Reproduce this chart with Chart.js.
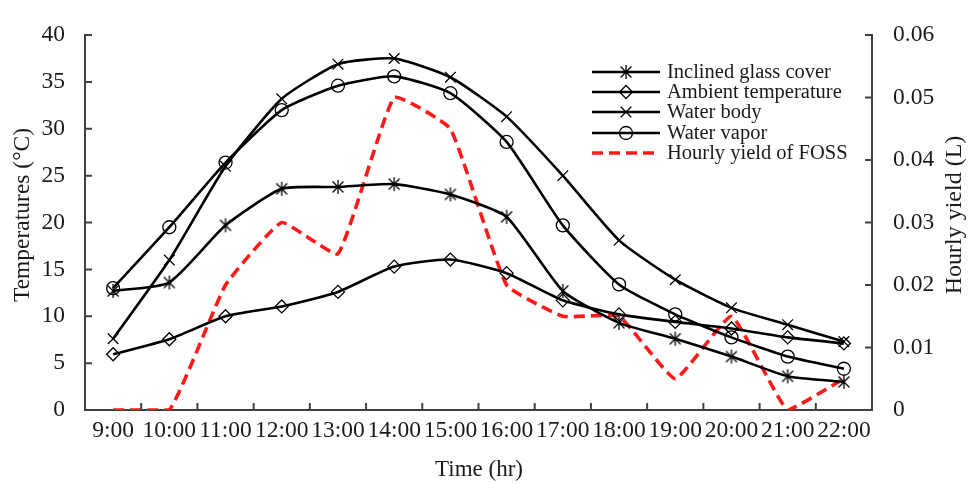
<!DOCTYPE html>
<html>
<head>
<meta charset="utf-8">
<script src="https://cdn.jsdelivr.net/npm/chart.js@4.4.1/dist/chart.umd.min.js"></script>
<style>
  html, body { margin: 0; padding: 0; background: #fff; }
  #wrap { width: 969px; height: 485px; }
</style>
</head>
<body>
<div id="wrap"><canvas id="c" width="969" height="485"></canvas></div>
<script>
// values
const hours = ['9:00', '10:00', '11:00', '12:00', '13:00', '14:00', '15:00', '16:00', '17:00', '18:00', '19:00', '20:00', '21:00', '22:00'];
const glassCover = [12.7, 13.6, 19.7, 23.6, 23.8, 24.1, 23.0, 20.6, 12.7, 9.3, 7.6, 5.7, 3.6, 3.0];
const ambientTemp = [5.95, 7.55, 10.0, 11.05, 12.6, 15.3, 16.05, 14.6, 11.7, 10.2, 9.4, 8.7, 7.75, 7.1];
const waterBody = [7.6, 16.0, 26.0, 33.2, 36.9, 37.5, 35.5, 31.3, 25.0, 18.1, 13.9, 10.9, 9.1, 7.3];
const waterVapor = [13.0, 19.5, 26.4, 32.0, 34.6, 35.6, 33.8, 28.6, 19.7, 13.4, 10.2, 7.75, 5.7, 4.4];
const hourlyYield = [0, 0, 0.02, 0.03, 0.025, 0.05, 0.045, 0.02, 0.015, 0.015, 0.005, 0.015, 0, 0.005];

const FONT = "'Liberation Serif', 'Times New Roman', serif";
const INK = '#1a1a1a';

function asteriskImg(r) {
  const s = r * 2 + 4;
  const cv = document.createElement('canvas');
  cv.width = s; cv.height = s;
  const g = cv.getContext('2d');
  const c = s / 2;
  g.strokeStyle = '#000';
  g.lineWidth = 1.3;
  g.beginPath();
  g.moveTo(c, c - r); g.lineTo(c, c + r);
  const d = r * 0.78;
  g.moveTo(c - d, c - d); g.lineTo(c + d, c + d);
  g.moveTo(c - d, c + d); g.lineTo(c + d, c - d);
  g.stroke();
  return cv;
}
const asterisk = asteriskImg(7);

const blackLine = (label, data, pointStyle, radius) => ({
  label, data, yAxisID: 'y',
  borderColor: '#000', borderWidth: 2.6,
  pointStyle, pointRadius: radius, pointBorderColor: '#000', pointBorderWidth: 1.3,
  pointBackgroundColor: 'rgba(0,0,0,0)',
  tension: 0.18,
});

const datasets = [
  blackLine('Inclined glass cover', glassCover, asterisk, 7),
  blackLine('Ambient temperature', ambientTemp, 'rectRot', 6.5),
  blackLine('Water body', waterBody, 'crossRot', 7.5),
  blackLine('Water vapor', waterVapor, 'circle', 6.5),
  {
    label: 'Hourly yield of FOSS', data: hourlyYield, yAxisID: 'y1',
    borderColor: '#ff1a1a', borderWidth: 3.6, borderDash: [11, 6],
    pointRadius: 0, tension: 0.12,
  },
];

const decor = {
  id: 'decor',
  afterDraw(chart) {
    const { ctx, chartArea: a, scales } = chart;
    ctx.save();
    // inner tick marks
    ctx.strokeStyle = '#404040';
    ctx.lineWidth = 2;
    ctx.beginPath();
    scales.y.ticks.forEach((t) => {
      const y = scales.y.getPixelForValue(t.value);
      ctx.moveTo(a.left, y); ctx.lineTo(a.left + 7, y);
    });
    scales.y1.ticks.forEach((t) => {
      const y = scales.y1.getPixelForValue(t.value);
      ctx.moveTo(a.right, y); ctx.lineTo(a.right - 7, y);
    });
    const step = scales.x.getPixelForValue(1) - scales.x.getPixelForValue(0);
    for (let i = 1; i < hours.length; i++) {
      const x = scales.x.getPixelForValue(i) - step / 2;
      ctx.moveTo(x, a.bottom); ctx.lineTo(x, a.bottom - 7);
    }
    ctx.stroke();

    // axis titles
    ctx.fillStyle = INK;
    ctx.textAlign = 'center';
    ctx.textBaseline = 'middle';
    ctx.font = `23px ${FONT}`;
    ctx.fillText('Time (hr)', 479, 470);
    ctx.save();
    ctx.font = `23.5px ${FONT}`;
    ctx.translate(23, 215); ctx.rotate(-Math.PI / 2);
    ctx.fillText('Temperatures (°C)', 0, 0);
    ctx.restore();
    ctx.save();
    ctx.font = `24px ${FONT}`;
    ctx.translate(955, 215); ctx.rotate(-Math.PI / 2);
    ctx.fillText('Hourly yield (L)', 0, 0);
    ctx.restore();

    // legend
    const x0 = 592, x1 = 660, rowY = [72, 92, 112, 133, 153];
    ctx.font = `20.5px ${FONT}`;
    ctx.textAlign = 'left';
    chart.data.datasets.forEach((ds, i) => {
      const y = rowY[i];
      ctx.save();
      ctx.strokeStyle = ds.borderColor;
      ctx.lineWidth = ds.borderWidth;
      ctx.setLineDash(ds.borderDash || []);
      ctx.beginPath(); ctx.moveTo(x0, y); ctx.lineTo(x1, y); ctx.stroke();
      ctx.restore();
      if (ds.pointRadius) {
        ctx.save();
        ctx.strokeStyle = '#000'; ctx.fillStyle = 'rgba(0,0,0,0)'; ctx.lineWidth = 1.3;
        Chart.helpers.drawPoint(ctx, { pointStyle: ds.pointStyle, radius: ds.pointRadius, borderWidth: 1.3, rotation: 0 }, (x0 + x1) / 2, y);
        ctx.restore();
      }
      ctx.fillStyle = INK;
      ctx.fillText(ds.label, 667, y + 1);
    });
    ctx.restore();
  },
};

new Chart(document.getElementById('c'), {
  type: 'line',
  data: { labels: hours, datasets },
  options: {
    responsive: false,
    animation: false,
    layout: { padding: { top: 18, left: 0, right: 0, bottom: 0 } },
    plugins: { legend: { display: false }, tooltip: { enabled: false } },
    scales: {
      x: {
        offset: true,
        grid: { display: false, drawTicks: false },
        border: { display: true, color: '#404040', width: 2 },
        ticks: { color: INK, font: { family: FONT, size: 23.5 }, padding: 7, maxRotation: 0, autoSkip: false },
        afterFit: (s) => { s.height = 75; },
      },
      y: {
        position: 'left', min: 0, max: 40,
        grid: { display: false, drawTicks: false },
        border: { display: true, color: '#404040', width: 2 },
        ticks: { stepSize: 5, color: INK, font: { family: FONT, size: 23.5 }, padding: 20 },
        afterFit: (s) => { s.width = 85; },
      },
      y1: {
        position: 'right', min: 0, max: 0.06,
        grid: { display: false, drawTicks: false },
        border: { display: true, color: '#404040', width: 2 },
        ticks: { stepSize: 0.01, color: INK, font: { family: FONT, size: 23.5 }, padding: 21,
          callback: (v) => (v === 0 ? '0' : v.toFixed(2)) },
        afterFit: (s) => { s.width = 97; },
      },
    },
  },
  plugins: [decor],
});
</script>
</body>
</html>
